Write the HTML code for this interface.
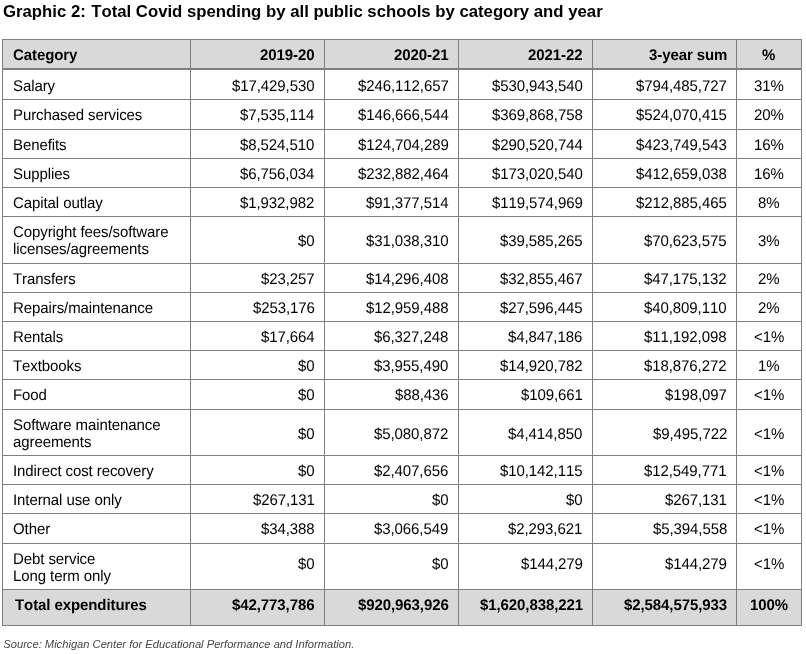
<!DOCTYPE html>
<html><head><meta charset="utf-8"><title>Graphic 2</title>
<style>
html,body{margin:0;padding:0;background:#fff}
body{font-kerning:none;width:806px;height:654px;position:relative;overflow:hidden;font-family:"Liberation Sans",Arial,sans-serif;color:#000}
.t{position:absolute;left:3px;top:2px;font-weight:bold;font-size:16.74px;line-height:20px;white-space:nowrap}
.s{position:absolute;left:3.3px;top:637px;font-style:italic;font-size:11.17px;line-height:14px;white-space:nowrap;color:#444}
.h,.v,.bg{position:absolute;background:#7f7f7f}
.bg{background:#d9d9d9}
.c{position:absolute;font-size:15px;line-height:17px;letter-spacing:-0.09px;white-space:nowrap;display:flex;align-items:center}
.x{display:block;transform:rotate(0.03deg) scaleY(1.03);transform-origin:50% 13.7px}
.c.r{justify-content:flex-end;text-align:right}
.c.m{justify-content:center;text-align:center}
.c.b{font-weight:bold}
</style></head><body>

<div class="t"><span style="margin-right:0.8px">Graphic 2:</span> Total Covid spending by all public schools by category and year</div>
<div class="bg" style="left:3px;top:40px;width:798px;height:28px"></div>
<div class="bg" style="left:3px;top:590px;width:798px;height:35px"></div>
<div class="h" style="left:2px;top:39px;width:800px;height:1px"></div>
<div class="h" style="left:2px;top:68px;width:800px;height:2px"></div>
<div class="h" style="left:2px;top:99px;width:800px;height:1px"></div>
<div class="h" style="left:2px;top:129px;width:800px;height:1px"></div>
<div class="h" style="left:2px;top:158px;width:800px;height:1px"></div>
<div class="h" style="left:2px;top:187px;width:800px;height:1px"></div>
<div class="h" style="left:2px;top:216px;width:800px;height:1px"></div>
<div class="h" style="left:2px;top:263px;width:800px;height:1px"></div>
<div class="h" style="left:2px;top:292px;width:800px;height:1px"></div>
<div class="h" style="left:2px;top:321px;width:800px;height:1px"></div>
<div class="h" style="left:2px;top:350px;width:800px;height:1px"></div>
<div class="h" style="left:2px;top:379px;width:800px;height:1px"></div>
<div class="h" style="left:2px;top:409px;width:800px;height:1px"></div>
<div class="h" style="left:2px;top:455px;width:800px;height:1px"></div>
<div class="h" style="left:2px;top:484px;width:800px;height:1px"></div>
<div class="h" style="left:2px;top:513px;width:800px;height:1px"></div>
<div class="h" style="left:2px;top:543px;width:800px;height:1px"></div>
<div class="h" style="left:2px;top:589px;width:800px;height:1px"></div>
<div class="h" style="left:2px;top:625px;width:800px;height:1px"></div>
<div class="v" style="left:2px;top:39px;width:1px;height:587px"></div>
<div class="v" style="left:190px;top:39px;width:1px;height:587px"></div>
<div class="v" style="left:324px;top:39px;width:1px;height:587px"></div>
<div class="v" style="left:458px;top:39px;width:1px;height:587px"></div>
<div class="v" style="left:592px;top:39px;width:1px;height:587px"></div>
<div class="v" style="left:736px;top:39px;width:1px;height:587px"></div>
<div class="v" style="left:801px;top:39px;width:1px;height:587px"></div>
<div class="c b" style="left:13px;top:40px;width:177px;height:28px"><span><span class="x">Category</span></span></div>
<div class="c r b" style="left:191px;top:40px;width:123.8px;height:28px"><span><span class="x">2019-20</span></span></div>
<div class="c r b" style="left:325px;top:40px;width:123.8px;height:28px"><span><span class="x">2020-21</span></span></div>
<div class="c r b" style="left:459px;top:40px;width:123.8px;height:28px"><span><span class="x">2021-22</span></span></div>
<div class="c r b" style="left:593px;top:40px;width:134.1px;height:28px"><span><span class="x">3-year sum</span></span></div>
<div class="c m b" style="left:737px;top:40px;width:64px;height:28px"><span><span class="x">%</span></span></div>
<div class="c" style="left:13px;top:71px;width:177px;height:29px"><span><span class="x">Salary</span></span></div>
<div class="c r" style="left:191px;top:71px;width:123.4px;height:29px"><span><span class="x">$17,429,530</span></span></div>
<div class="c r" style="left:325px;top:71px;width:123.65px;height:29px"><span><span class="x">$246,112,657</span></span></div>
<div class="c r" style="left:459px;top:71px;width:123.5px;height:29px"><span><span class="x">$530,943,540</span></span></div>
<div class="c r" style="left:593px;top:71px;width:133.8px;height:29px"><span><span class="x">$794,485,727</span></span></div>
<div class="c m" style="left:737px;top:71px;width:64px;height:29px"><span><span class="x">31%</span></span></div>
<div class="c" style="left:13px;top:100px;width:177px;height:29px"><span><span class="x">Purchased services</span></span></div>
<div class="c r" style="left:191px;top:100px;width:123.4px;height:29px"><span><span class="x">$7,535,114</span></span></div>
<div class="c r" style="left:325px;top:100px;width:123.65px;height:29px"><span><span class="x">$146,666,544</span></span></div>
<div class="c r" style="left:459px;top:100px;width:123.5px;height:29px"><span><span class="x">$369,868,758</span></span></div>
<div class="c r" style="left:593px;top:100px;width:133.8px;height:29px"><span><span class="x">$524,070,415</span></span></div>
<div class="c m" style="left:737px;top:100px;width:64px;height:29px"><span><span class="x">20%</span></span></div>
<div class="c" style="left:13px;top:130px;width:177px;height:28px"><span><span class="x">Benefits</span></span></div>
<div class="c r" style="left:191px;top:130px;width:123.4px;height:28px"><span><span class="x">$8,524,510</span></span></div>
<div class="c r" style="left:325px;top:130px;width:123.65px;height:28px"><span><span class="x">$124,704,289</span></span></div>
<div class="c r" style="left:459px;top:130px;width:123.5px;height:28px"><span><span class="x">$290,520,744</span></span></div>
<div class="c r" style="left:593px;top:130px;width:133.8px;height:28px"><span><span class="x">$423,749,543</span></span></div>
<div class="c m" style="left:737px;top:130px;width:64px;height:28px"><span><span class="x">16%</span></span></div>
<div class="c" style="left:13px;top:159px;width:177px;height:28px"><span><span class="x">Supplies</span></span></div>
<div class="c r" style="left:191px;top:159px;width:123.4px;height:28px"><span><span class="x">$6,756,034</span></span></div>
<div class="c r" style="left:325px;top:159px;width:123.65px;height:28px"><span><span class="x">$232,882,464</span></span></div>
<div class="c r" style="left:459px;top:159px;width:123.5px;height:28px"><span><span class="x">$173,020,540</span></span></div>
<div class="c r" style="left:593px;top:159px;width:133.8px;height:28px"><span><span class="x">$412,659,038</span></span></div>
<div class="c m" style="left:737px;top:159px;width:64px;height:28px"><span><span class="x">16%</span></span></div>
<div class="c" style="left:13px;top:188px;width:177px;height:28px"><span><span class="x">Capital outlay</span></span></div>
<div class="c r" style="left:191px;top:188px;width:123.4px;height:28px"><span><span class="x">$1,932,982</span></span></div>
<div class="c r" style="left:325px;top:188px;width:123.65px;height:28px"><span><span class="x">$91,377,514</span></span></div>
<div class="c r" style="left:459px;top:188px;width:123.5px;height:28px"><span><span class="x">$119,574,969</span></span></div>
<div class="c r" style="left:593px;top:188px;width:133.8px;height:28px"><span><span class="x">$212,885,465</span></span></div>
<div class="c m" style="left:737px;top:188px;width:64px;height:28px"><span><span class="x">8%</span></span></div>
<div class="c" style="left:13px;top:217px;width:177px;height:46px"><span><span class="x">Copyright fees/software</span><span class="x">licenses/agreements</span></span></div>
<div class="c r" style="left:191px;top:217px;width:123.4px;height:46px"><span><span class="x">$0</span></span></div>
<div class="c r" style="left:325px;top:217px;width:123.65px;height:46px"><span><span class="x">$31,038,310</span></span></div>
<div class="c r" style="left:459px;top:217px;width:123.5px;height:46px"><span><span class="x">$39,585,265</span></span></div>
<div class="c r" style="left:593px;top:217px;width:133.8px;height:46px"><span><span class="x">$70,623,575</span></span></div>
<div class="c m" style="left:737px;top:217px;width:64px;height:46px"><span><span class="x">3%</span></span></div>
<div class="c" style="left:13px;top:264px;width:177px;height:28px"><span><span class="x">Transfers</span></span></div>
<div class="c r" style="left:191px;top:264px;width:123.4px;height:28px"><span><span class="x">$23,257</span></span></div>
<div class="c r" style="left:325px;top:264px;width:123.65px;height:28px"><span><span class="x">$14,296,408</span></span></div>
<div class="c r" style="left:459px;top:264px;width:123.5px;height:28px"><span><span class="x">$32,855,467</span></span></div>
<div class="c r" style="left:593px;top:264px;width:133.8px;height:28px"><span><span class="x">$47,175,132</span></span></div>
<div class="c m" style="left:737px;top:264px;width:64px;height:28px"><span><span class="x">2%</span></span></div>
<div class="c" style="left:13px;top:293px;width:177px;height:28px"><span><span class="x">Repairs/maintenance</span></span></div>
<div class="c r" style="left:191px;top:293px;width:123.4px;height:28px"><span><span class="x">$253,176</span></span></div>
<div class="c r" style="left:325px;top:293px;width:123.65px;height:28px"><span><span class="x">$12,959,488</span></span></div>
<div class="c r" style="left:459px;top:293px;width:123.5px;height:28px"><span><span class="x">$27,596,445</span></span></div>
<div class="c r" style="left:593px;top:293px;width:133.8px;height:28px"><span><span class="x">$40,809,110</span></span></div>
<div class="c m" style="left:737px;top:293px;width:64px;height:28px"><span><span class="x">2%</span></span></div>
<div class="c" style="left:13px;top:322px;width:177px;height:28px"><span><span class="x">Rentals</span></span></div>
<div class="c r" style="left:191px;top:322px;width:123.4px;height:28px"><span><span class="x">$17,664</span></span></div>
<div class="c r" style="left:325px;top:322px;width:123.65px;height:28px"><span><span class="x">$6,327,248</span></span></div>
<div class="c r" style="left:459px;top:322px;width:123.5px;height:28px"><span><span class="x">$4,847,186</span></span></div>
<div class="c r" style="left:593px;top:322px;width:133.8px;height:28px"><span><span class="x">$11,192,098</span></span></div>
<div class="c m" style="left:737px;top:322px;width:64px;height:28px"><span><span class="x">&lt;1%</span></span></div>
<div class="c" style="left:13px;top:351px;width:177px;height:28px"><span><span class="x">Textbooks</span></span></div>
<div class="c r" style="left:191px;top:351px;width:123.4px;height:28px"><span><span class="x">$0</span></span></div>
<div class="c r" style="left:325px;top:351px;width:123.65px;height:28px"><span><span class="x">$3,955,490</span></span></div>
<div class="c r" style="left:459px;top:351px;width:123.5px;height:28px"><span><span class="x">$14,920,782</span></span></div>
<div class="c r" style="left:593px;top:351px;width:133.8px;height:28px"><span><span class="x">$18,876,272</span></span></div>
<div class="c m" style="left:737px;top:351px;width:64px;height:28px"><span><span class="x">1%</span></span></div>
<div class="c" style="left:13px;top:380px;width:177px;height:29px"><span><span class="x">Food</span></span></div>
<div class="c r" style="left:191px;top:380px;width:123.4px;height:29px"><span><span class="x">$0</span></span></div>
<div class="c r" style="left:325px;top:380px;width:123.65px;height:29px"><span><span class="x">$88,436</span></span></div>
<div class="c r" style="left:459px;top:380px;width:123.5px;height:29px"><span><span class="x">$109,661</span></span></div>
<div class="c r" style="left:593px;top:380px;width:133.8px;height:29px"><span><span class="x">$198,097</span></span></div>
<div class="c m" style="left:737px;top:380px;width:64px;height:29px"><span><span class="x">&lt;1%</span></span></div>
<div class="c" style="left:13px;top:410px;width:177px;height:45px"><span><span class="x">Software maintenance</span><span class="x">agreements</span></span></div>
<div class="c r" style="left:191px;top:411px;width:123.4px;height:45px"><span><span class="x">$0</span></span></div>
<div class="c r" style="left:325px;top:411px;width:123.65px;height:45px"><span><span class="x">$5,080,872</span></span></div>
<div class="c r" style="left:459px;top:411px;width:123.5px;height:45px"><span><span class="x">$4,414,850</span></span></div>
<div class="c r" style="left:593px;top:411px;width:133.8px;height:45px"><span><span class="x">$9,495,722</span></span></div>
<div class="c m" style="left:737px;top:411px;width:64px;height:45px"><span><span class="x">&lt;1%</span></span></div>
<div class="c" style="left:13px;top:456px;width:177px;height:28px"><span><span class="x">Indirect cost recovery</span></span></div>
<div class="c r" style="left:191px;top:456px;width:123.4px;height:28px"><span><span class="x">$0</span></span></div>
<div class="c r" style="left:325px;top:456px;width:123.65px;height:28px"><span><span class="x">$2,407,656</span></span></div>
<div class="c r" style="left:459px;top:456px;width:123.5px;height:28px"><span><span class="x">$10,142,115</span></span></div>
<div class="c r" style="left:593px;top:456px;width:133.8px;height:28px"><span><span class="x">$12,549,771</span></span></div>
<div class="c m" style="left:737px;top:456px;width:64px;height:28px"><span><span class="x">&lt;1%</span></span></div>
<div class="c" style="left:13px;top:485px;width:177px;height:28px"><span><span class="x">Internal use only</span></span></div>
<div class="c r" style="left:191px;top:485px;width:123.4px;height:28px"><span><span class="x">$267,131</span></span></div>
<div class="c r" style="left:325px;top:485px;width:123.65px;height:28px"><span><span class="x">$0</span></span></div>
<div class="c r" style="left:459px;top:485px;width:123.5px;height:28px"><span><span class="x">$0</span></span></div>
<div class="c r" style="left:593px;top:485px;width:133.8px;height:28px"><span><span class="x">$267,131</span></span></div>
<div class="c m" style="left:737px;top:485px;width:64px;height:28px"><span><span class="x">&lt;1%</span></span></div>
<div class="c" style="left:13px;top:514px;width:177px;height:29px"><span><span class="x">Other</span></span></div>
<div class="c r" style="left:191px;top:514px;width:123.4px;height:29px"><span><span class="x">$34,388</span></span></div>
<div class="c r" style="left:325px;top:514px;width:123.65px;height:29px"><span><span class="x">$3,066,549</span></span></div>
<div class="c r" style="left:459px;top:514px;width:123.5px;height:29px"><span><span class="x">$2,293,621</span></span></div>
<div class="c r" style="left:593px;top:514px;width:133.8px;height:29px"><span><span class="x">$5,394,558</span></span></div>
<div class="c m" style="left:737px;top:514px;width:64px;height:29px"><span><span class="x">&lt;1%</span></span></div>
<div class="c" style="left:13px;top:544px;width:177px;height:45px"><span><span class="x">Debt service</span><span class="x">Long term only</span></span></div>
<div class="c r" style="left:191px;top:541px;width:123.4px;height:45px"><span><span class="x">$0</span></span></div>
<div class="c r" style="left:325px;top:541px;width:123.65px;height:45px"><span><span class="x">$0</span></span></div>
<div class="c r" style="left:459px;top:541px;width:123.5px;height:45px"><span><span class="x">$144,279</span></span></div>
<div class="c r" style="left:593px;top:541px;width:133.8px;height:45px"><span><span class="x">$144,279</span></span></div>
<div class="c m" style="left:737px;top:541px;width:64px;height:45px"><span><span class="x">&lt;1%</span></span></div>
<div class="c b" style="left:14.5px;top:587px;width:177px;height:35px"><span><span class="x">Total expenditures</span></span></div>
<div class="c r b" style="left:191px;top:587px;width:123.8px;height:35px"><span><span class="x">$42,773,786</span></span></div>
<div class="c r b" style="left:325px;top:587px;width:123.8px;height:35px"><span><span class="x">$920,963,926</span></span></div>
<div class="c r b" style="left:459px;top:587px;width:123.8px;height:35px"><span><span class="x">$1,620,838,221</span></span></div>
<div class="c r b" style="left:593px;top:587px;width:133.8px;height:35px"><span><span class="x">$2,584,575,933</span></span></div>
<div class="c m b" style="left:737px;top:587px;width:64px;height:35px"><span><span class="x">100%</span></span></div>
<div class="s">Source: Michigan Center for Educational Performance and Information.</div>
</body></html>
